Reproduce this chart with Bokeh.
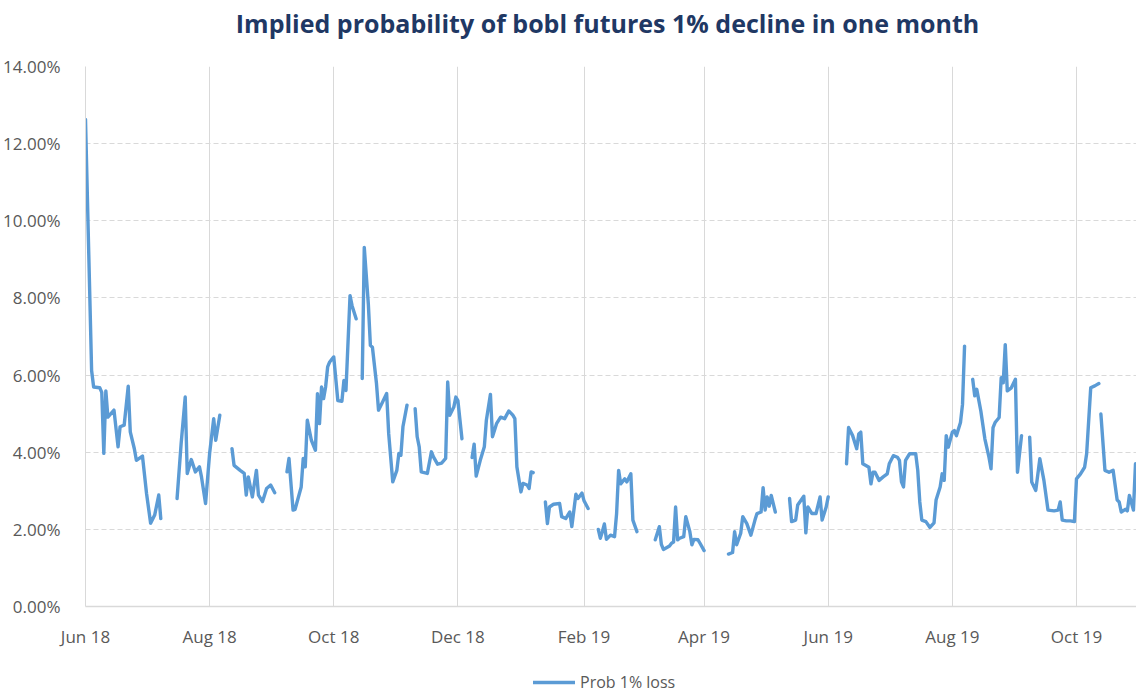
import numpy as np
import pandas as pd
from bokeh.plotting import figure
from bokeh.layouts import column
from bokeh.models import (ColumnDataSource, FixedTicker, DatetimeTickFormatter,
                          PrintfTickFormatter, Legend, LegendItem, Range1d, Label)
from bokeh.embed import file_html
from bokeh.resources import INLINE

# ---------------- data ----------------
title_text = "Implied probability of bobl futures 1% decline in one month"
series_name = "Prob 1% loss"
start_date = "2018-06-01"
end_offset_days = 516.5
tick_dates = ["2018-06-01", "2018-08-01", "2018-10-01", "2018-12-01", "2019-02-01",
              "2019-04-01", "2019-06-01", "2019-08-01", "2019-10-01"]
y_ticks = [0, 2, 4, 6, 8, 10, 12, 14]

# days after start_date; a None value marks a gap in the series
day_offset = [
    0, 3, 4, 7, 8, 9, 10, 11, 14, 16, 17, 19, 21, 22, 24, 25, 28, 30, 32, 34, 36, 37,
    41,
    45, 47, 49, 50, 52, 54, 56, 57, 59, 61, 63, 64, 66,
    69,
    72, 73, 76, 78, 79, 80, 82, 84, 85, 87, 89, 91, 93,
    96,
    99, 100, 102, 103, 106, 107, 108, 109, 111, 113, 114, 115, 116, 117, 118, 119, 120,
    122, 124, 126, 127, 128, 130, 131, 133,
    135,
    136, 137, 139, 140, 141, 143, 144, 146, 148, 149, 151, 153, 154, 155, 156, 158,
    160,
    162, 163, 164, 165, 168, 170, 171, 173, 175, 177, 178, 179, 181, 182, 183, 185,
    187,
    190, 191, 192, 194, 196, 197, 199, 200, 202, 204, 206, 208, 210, 211, 212, 214, 215,
    217, 218, 219, 220,
    223,
    226, 227, 228, 230, 233, 234, 236, 238, 239, 241, 242, 244, 245, 247,
    249,
    252, 253, 254, 255, 256, 258, 260, 261, 262, 263, 265, 266, 268, 269, 271,
    275,
    280, 282, 283, 284, 287, 288, 289, 290, 291, 292, 294, 295, 297, 298, 299, 301, 302, 304,
    310,
    316, 318, 319, 320, 322, 323, 325, 327, 329, 330, 332, 333, 334, 335, 336, 337, 339,
    342,
    346, 347, 349, 350, 353, 354, 355, 357, 359, 361, 362, 364, 365,
    370,
    374, 375, 377, 379, 380, 381, 382, 385, 386, 387, 388, 390, 392, 394, 395, 397, 399,
    400, 401, 402, 403, 405, 408, 409, 410, 411, 413, 415, 417, 418, 420, 421, 422, 423,
    424, 426, 427, 428, 430, 431, 432,
    434,
    436, 437, 438, 440, 442, 444, 445, 446, 447, 449, 450, 451, 452, 453, 455, 457, 458, 460,
    462,
    464, 465, 467, 469, 471, 473, 476, 478, 479, 480, 482, 484, 486, 487, 489, 491, 492,
    494, 496, 498,
    498.5,
    499, 501, 503, 505, 507, 508, 509, 511, 512, 513, 515, 516,
]

prob_pct = [
    12.63, 6.12, 5.69, 5.67, 5.55, 3.97, 5.59, 4.91, 5.09, 4.14, 4.66, 4.70, 5.71, 4.53,
    4.09, 3.79, 3.90, 2.93, 2.16, 2.37, 2.89, 2.28,
    None,
    2.80, 4.22, 5.43, 3.45, 3.81, 3.49, 3.62, 3.36, 2.67, 3.97, 4.87, 4.31, 4.96,
    None,
    4.09, 3.66, 3.53, 3.45, 2.89, 3.36, 2.84, 3.53, 2.89, 2.72, 3.06, 3.15, 2.95,
    None,
    3.49, 3.84, 2.50, 2.52, 3.10, 3.84, 3.62, 4.83, 4.31, 4.05, 5.52, 4.74, 5.69, 5.39,
    5.69, 6.21, 6.34, 6.47, 5.34, 5.32, 5.86, 5.60, 8.06, 7.80, 7.46,
    None,
    5.91, 9.31, 7.84, 6.77, 6.72, 5.78, 5.09, 5.30, 5.52, 4.48, 3.23, 3.53, 3.97, 3.92,
    4.66, 5.22,
    None,
    5.13, 4.40, 4.14, 3.49, 3.45, 4.01, 3.88, 3.69, 3.72, 3.84, 5.82, 4.96, 5.17, 5.43,
    5.34, 4.35,
    None,
    3.86, 4.21, 3.38, 3.79, 4.14, 4.83, 5.50, 4.40, 4.74, 4.91, 4.87, 5.07, 4.96, 4.87,
    3.62, 2.97, 3.19, 3.15, 3.06, 3.49, 3.47,
    None,
    2.71, 2.15, 2.58, 2.65, 2.67, 2.33, 2.28, 2.45, 2.07, 2.91, 2.80, 2.94, 2.74, 2.54,
    None,
    2.00, 1.77, 1.94, 2.14, 1.74, 1.85, 1.81, 2.41, 3.53, 3.18, 3.31, 3.23, 3.44, 2.24, 1.94,
    None,
    1.73, 2.07, 1.61, 1.48, 1.57, 1.64, 1.67, 2.58, 1.73, 1.77, 1.81, 2.33, 1.94, 1.60,
    1.74, 1.73, 1.64, 1.45,
    None,
    1.36, 1.40, 1.94, 1.60, 1.90, 2.33, 2.15, 1.85, 2.24, 2.41, 2.45, 3.08, 2.50, 2.84,
    2.60, 2.88, 2.45,
    None,
    2.80, 2.20, 2.24, 2.63, 2.86, 1.91, 2.58, 2.41, 2.41, 2.84, 2.24, 2.58, 2.84,
    None,
    3.70, 4.64, 4.43, 4.09, 4.47, 4.52, 3.70, 3.61, 3.18, 3.48, 3.48, 3.27, 3.36, 3.44,
    3.70, 3.91, 3.87, 3.79, 3.23, 3.10, 3.79, 3.96, 3.96, 3.53, 2.71, 2.24, 2.20, 2.05,
    2.17, 2.76, 3.10, 3.44, 3.27, 4.43, 4.13, 4.52, 4.56, 4.43, 4.77, 5.24, 6.75,
    None,
    5.89, 5.46, 5.63, 5.07, 4.34, 3.87, 3.57, 4.64, 4.77, 4.90, 5.93, 5.80, 6.79, 5.59,
    5.67, 5.89, 3.48, 4.43,
    None,
    4.39, 3.23, 3.01, 3.83, 3.27, 2.50, 2.48, 2.50, 2.71, 2.24, 2.22, 2.22, 2.20, 3.31,
    3.44, 3.61, 3.96, 5.67, 5.72, 5.78,
    None,
    4.99, 3.53, 3.48, 3.53, 2.76, 2.71, 2.45, 2.52, 2.48, 2.88, 2.50, 3.70,
]

# ---------------- build ----------------
start = pd.Timestamp(start_date)
dates = start + pd.to_timedelta(np.array(day_offset, dtype=float), unit="D")
vals = np.array([np.nan if v is None else v for v in prob_pct], dtype=float)
source = ColumnDataSource(dict(date=dates, prob=vals))

FONT = "Open Sans"
GRID = "#D9D9D9"
LABEL = "#595959"
LINE = "#5B9BD5"
LEFT = 85


def strip(h):
    f = figure(width=1136, height=h, x_range=Range1d(0, 1), y_range=Range1d(0, 1),
               output_backend="svg", toolbar_location=None,
               x_axis_location=None, y_axis_location=None,
               min_border_left=LEFT, min_border_right=0, min_border_top=0, min_border_bottom=0)
    f.outline_line_color = None
    f.xgrid.visible = False
    f.ygrid.visible = False
    return f


# title strip
top = strip(44)
top.add_layout(Label(x=522, y=22, x_units="screen", y_units="screen", text=title_text,
                     text_align="center", text_baseline="middle", text_font=FONT,
                     text_font_size="25px", text_font_style="bold", text_color="#1F3864"))

# main chart
p = figure(width=1136, height=606, x_axis_type="datetime",
           x_range=Range1d(start, start + pd.Timedelta(days=end_offset_days)),
           y_range=Range1d(0, 14),
           output_backend="svg", toolbar_location=None,
           min_border_left=LEFT, min_border_right=0, min_border_top=22, min_border_bottom=43)
p.outline_line_color = None
p.background_fill_color = "white"

line_r = p.line("date", "prob", source=source, line_color=LINE, line_width=3.4,
                line_join="round", line_cap="round")

tick_ms = [pd.Timestamp(d).timestamp() * 1000 for d in tick_dates]
xt = FixedTicker(ticks=tick_ms)
p.xaxis.ticker = xt
p.xgrid.ticker = xt
fmt = "%b %y"
p.xaxis.formatter = DatetimeTickFormatter(days=fmt, months=fmt, years=fmt, hours=fmt,
                                          minutes=fmt, seconds=fmt, milliseconds=fmt,
                                          microseconds=fmt, minsec=fmt, hourmin=fmt)
p.yaxis.ticker = FixedTicker(ticks=y_ticks)
p.yaxis.formatter = PrintfTickFormatter(format="%.2f%%")

for ax in (p.xaxis, p.yaxis):
    ax.major_tick_line_color = None
    ax.minor_tick_line_color = None
    ax.axis_line_color = GRID
    ax.major_label_text_font = FONT
    ax.major_label_text_font_size = "17px"
    ax.major_label_text_color = LABEL
p.xaxis.axis_line_width = 1.5
p.xaxis.major_label_standoff = 12
p.yaxis.major_label_standoff = 19

p.xgrid.grid_line_color = GRID
p.xgrid.grid_line_width = 1
p.ygrid.grid_line_color = GRID
p.ygrid.grid_line_width = 1
p.ygrid.grid_line_dash = "5 3"

# legend strip under the chart (key line uses the same series, outside this strip's range)
leg = strip(43)
key_r = leg.line("date", "prob", source=source, line_color=LINE, line_width=3.4,
                 line_cap="round")
legend = Legend(items=[LegendItem(label=series_name, renderers=[key_r])],
                location=(448, 0), orientation="horizontal",
                border_line_color=None, background_fill_alpha=0,
                label_text_font=FONT, label_text_font_size="16px", label_text_color=LABEL,
                glyph_width=42, glyph_height=20, label_standoff=5,
                padding=0, margin=0, spacing=0)
leg.add_layout(legend)

layout = column(top, p, leg, spacing=0)
open("out.html", "w").write(file_html(layout, INLINE))
